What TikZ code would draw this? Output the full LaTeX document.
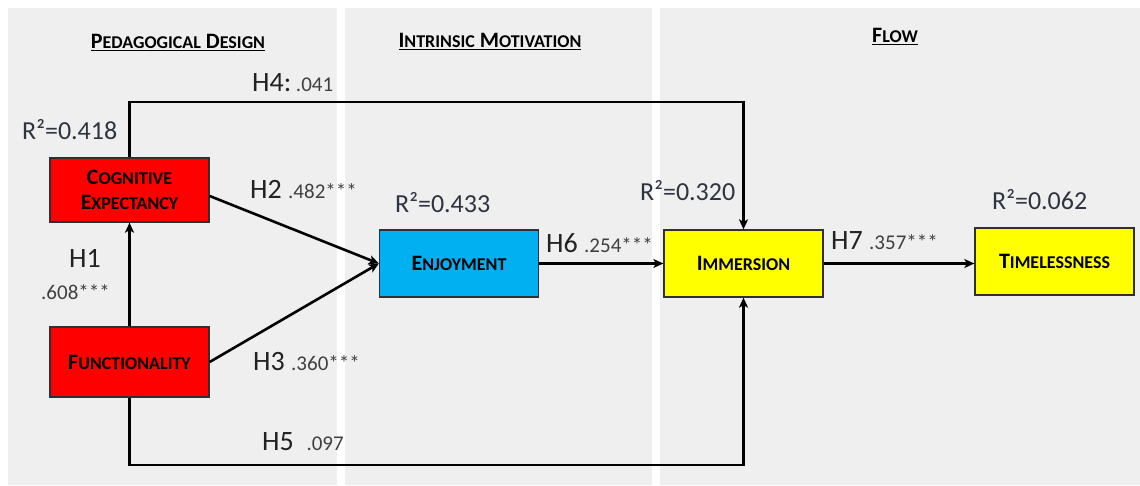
\documentclass[tikz,border=0pt]{standalone}
\usepackage{fontspec}
\setmainfont{Carlito}
\newfontfamily\rfont{Carlito}
\usetikzlibrary{arrows.meta}
\definecolor{panel}{HTML}{EFEFEF}
\definecolor{boxred}{HTML}{FF0000}
\definecolor{boxblue}{HTML}{00B0F0}
\definecolor{boxyellow}{HTML}{FFFF00}
\definecolor{border}{HTML}{303030}
\definecolor{hcol}{HTML}{222222}
\definecolor{ncol}{HTML}{404040}
\definecolor{rcol}{HTML}{2E3440}
\newcommand{\mySCh}[2]{#1{\fontsize{18}{18}\selectfont #2}}
\newcommand{\mySCb}[2]{#1{\fontsize{18}{18}\selectfont #2}}
\newcommand{\numtxt}[1]{{\fontsize{21}{21}\selectfont\color{ncol}#1}}
\tikzset{
  box/.style={draw=border, line width=1.3pt, minimum width=159pt, align=center, inner sep=0pt,
    font=\fontsize{22}{27}\selectfont\bfseries, text=black},
  conn/.style={line width=2.6pt, draw=black, -{Stealth[length=10pt,width=9pt,inset=2.5pt]}},
  hlab/.style={anchor=base west, inner sep=0pt, font=\fontsize{28}{28}\selectfont, text=hcol},
  rlab/.style={anchor=base west, inner sep=0pt, font=\fontsize{26}{26}\selectfont\rfont, text=rcol},
  head/.style={anchor=base, inner sep=0pt, font=\fontsize{22}{26}\selectfont\bfseries, text=black}
}
\begin{document}
\begin{tikzpicture}[x=1pt,y=-1pt]
\useasboundingbox (0,0) rectangle (1140,486);
\fill[white] (0,0) rectangle (1140,486);
\fill[panel] (8,8) rectangle (337,485);
\fill[panel] (345,8) rectangle (652,485);
\fill[panel] (660,8) rectangle (1140,485);

% headings
\node[head] (hpd) at (178,49) {\underline{\mySCh{P}{EDAGOGICAL} \mySCh{D}{ESIGN}}};
\node[head] (him) at (490,48) {\underline{\mySCh{I}{NTRINSIC} \mySCh{M}{OTIVATION}}};
\node[head] (hfl) at (895,43) {\underline{\mySCh{F}{LOW}}};

% boxes
\node[box, fill=boxred, minimum height=64pt] (ce) at (129.5,190) {\mySCb{C}{OGNITIVE}\\[-2pt]\mySCb{E}{XPECTANCY}};
\node[box, fill=boxred, minimum height=70pt] (fu) at (129.5,362) {\mySCb{F}{UNCTIONALITY}};
\node[box, fill=boxblue, minimum height=67pt] (en) at (459,263.5) {\mySCb{E}{NJOYMENT}};
\node[box, fill=boxyellow, minimum height=67pt] (im) at (743.5,263.5) {\mySCb{I}{MMERSION}};
\node[box, fill=boxyellow, minimum height=67pt] (ti) at (1054.5,261.5) {\mySCb{T}{IMELESSNESS}};

% helper coordinates
\coordinate (toprow) at (0,102);
\coordinate (botrow) at (0,465);

% connectors
\draw[conn] (ce.north) -- (ce.north |- toprow) -| (im.north);
\draw[conn] (fu.north) -- (ce.south);
\draw[conn] ([yshift=-6pt]ce.east) -- (en.west);
\draw[conn] (fu.east) -- (en.west);
\draw[conn] (fu.south) -- (fu.south |- botrow) -| (im.south);
\draw[conn] (en.east) -- (im.west);
\draw[conn] (im.east) -- (im.east -| ti.west);

% path labels
\node[hlab] (l4) at (252,92) {H4:\,\numtxt{.041}};
\node[hlab] (l2) at (250,199) {H2 \numtxt{.482***}};
\node[hlab] (l1) at (69,268) {H1};
\node[anchor=base west, inner sep=0pt] (l1n) at (41,299) {\numtxt{.608***}};
\node[hlab] (l3) at (253,370) {H3 \numtxt{.360***}};
\node[hlab] (l5) at (262,450) {H5 \ \numtxt{.097}};
\node[hlab] (l6) at (546,253) {H6 \numtxt{.254***}};
\node[hlab] (l7) at (831,250) {H7 \numtxt{.357***}};

% R squared labels
\node[rlab] (r1) at (22,140) {R²=0.418};
\node[rlab] (r2) at (395,213) {R²=0.433};
\node[rlab] (r3) at (640,201) {R²=0.320};
\node[rlab] (r4) at (992,210) {R²=0.062};
\end{tikzpicture}
\end{document}
